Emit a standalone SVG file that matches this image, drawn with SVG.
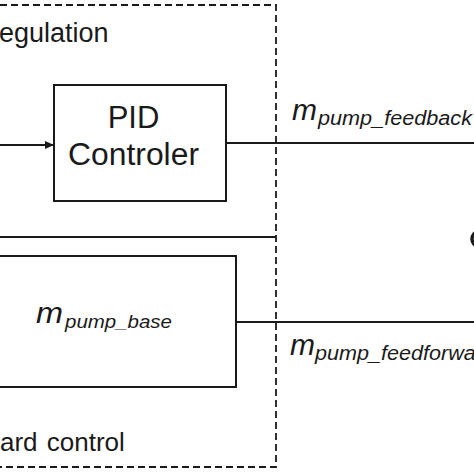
<svg xmlns="http://www.w3.org/2000/svg" width="474" height="474" viewBox="0 0 474 474">
<defs>
<style>
.t{font-family:"Liberation Sans",Arial,sans-serif;fill:#1a1a1a}
.i{font-family:"Liberation Sans",Arial,sans-serif;font-style:italic;fill:#1a1a1a}
.ln{stroke:#1a1a1a;stroke-width:2;fill:none}
.box{stroke:#1a1a1a;stroke-width:2;fill:#fff}
.dash{stroke:#1a1a1a;stroke-width:1.8;fill:none;stroke-dasharray:7 4}
</style>
<marker id="ah" markerWidth="10" markerHeight="10" refX="9" refY="4" orient="auto" markerUnits="userSpaceOnUse">
<path d="M0,0 L9,4 L0,8 Z" fill="#1a1a1a"/>
</marker>
</defs>
<rect width="474" height="474" fill="#fff"/>
<g id="regulation-frame">
<path class="dash" d="M0,5 H276 V467 H0"/>
<text class="t" x="-1" y="42" font-size="27">egulation</text>
<text class="t" x="0" y="451" font-size="26" word-spacing="2">ard control</text>
</g>
<g id="connectors">
<line class="ln" x1="0" y1="145" x2="54" y2="145" marker-end="url(#ah)"/>
<line class="ln" x1="226" y1="143" x2="474" y2="143"/>
<line class="ln" x1="0" y1="237" x2="276" y2="237"/>
<line class="ln" x1="236" y1="322" x2="474" y2="322"/>
</g>
<g id="pid">
<rect class="box" x="54" y="85" width="172" height="116"/>
<text class="t" x="133.5" y="128" font-size="31" text-anchor="middle">PID</text>
<text class="t" x="133.5" y="165" font-size="31" text-anchor="middle" textLength="131" lengthAdjust="spacingAndGlyphs">Controler</text>
</g>
<g id="base">
<rect class="box" x="-2" y="256" width="238" height="131"/>
<text class="i" x="36" y="323" font-size="30" textLength="27" lengthAdjust="spacingAndGlyphs">m</text>
<text class="i" x="65" y="328" font-size="19" textLength="107" lengthAdjust="spacingAndGlyphs">pump_base</text>
</g>
<g id="label-feedback">
<text class="i" x="292" y="120" font-size="30" textLength="25" lengthAdjust="spacingAndGlyphs">m</text>
<text class="i" x="318" y="125" font-size="20" textLength="154" lengthAdjust="spacingAndGlyphs">pump_feedback</text>
</g>
<g id="label-feedforward">
<text class="i" x="290" y="355" font-size="30" textLength="25" lengthAdjust="spacingAndGlyphs">m</text>
<text class="i" x="315" y="360" font-size="20" textLength="180" lengthAdjust="spacingAndGlyphs">pump_feedforward</text>
</g>
<g id="right-node">
<ellipse cx="478" cy="239" rx="6" ry="7" stroke="#1a1a1a" stroke-width="3.5" fill="none"/>
</g>
</svg>
